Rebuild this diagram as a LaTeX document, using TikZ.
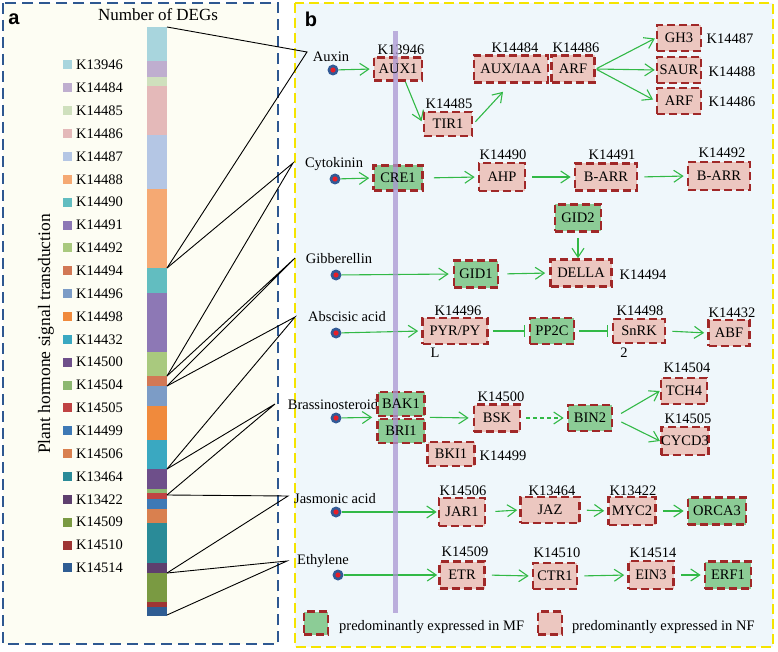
\documentclass[tikz,border=0pt]{standalone}
\usepackage{fontspec}
\setmainfont{Liberation Serif}
\newfontfamily\sansbold{Liberation Sans}
\usetikzlibrary{arrows.meta,calc}
\definecolor{pinkfill}{RGB}{236,199,192}
\definecolor{greenfill}{RGB}{140,204,150}
\definecolor{dred}{RGB}{160,40,40}
\definecolor{agreen}{RGB}{50,185,70}
\definecolor{pblue}{RGB}{46,88,145}
\definecolor{pyellow}{RGB}{245,228,0}
\definecolor{creambg}{RGB}{253,253,243}
\definecolor{bluebg}{RGB}{239,247,251}
\definecolor{barpurple}{RGB}{170,150,210}
\definecolor{dotblue}{RGB}{50,90,150}
\definecolor{dotred}{RGB}{230,30,40}
\definecolor{cA}{RGB}{168,213,221}
\definecolor{cB}{RGB}{191,174,207}
\definecolor{cC}{RGB}{207,224,189}
\definecolor{cD}{RGB}{228,185,185}
\definecolor{cE}{RGB}{180,198,228}
\definecolor{cF}{RGB}{245,169,115}
\definecolor{cG}{RGB}{98,189,192}
\definecolor{cH}{RGB}{141,120,181}
\definecolor{cI}{RGB}{169,201,126}
\definecolor{cJ}{RGB}{210,120,85}
\definecolor{cK}{RGB}{124,156,198}
\definecolor{cL}{RGB}{240,138,60}
\definecolor{cM}{RGB}{58,168,193}
\definecolor{cN}{RGB}{110,79,138}
\definecolor{cO}{RGB}{141,184,113}
\definecolor{cP}{RGB}{192,67,67}
\definecolor{cQ}{RGB}{62,121,181}
\definecolor{cR}{RGB}{217,128,79}
\definecolor{cS}{RGB}{42,139,152}
\definecolor{cT}{RGB}{94,63,110}
\definecolor{cU}{RGB}{122,154,66}
\definecolor{cV}{RGB}{158,53,52}
\definecolor{cW}{RGB}{47,93,147}
\newcommand\fsz{\fontsize{14.5pt}{17pt}\selectfont}
\begin{document}
\begin{tikzpicture}[x=1pt,y=-1pt,
  every node/.style={font=\fsz, inner sep=0pt},
  genebox/.style={draw=dred, line width=2.6pt, dash pattern=on 8pt off 4pt, inner sep=0pt},
  pk/.style={genebox, fill=pinkfill},
  gr/.style={genebox, fill=greenfill},
  garrow/.style={draw=agreen, line width=1.1pt, -{Straight Barb[length=9pt,width=12pt,line width=1.1pt]}, shorten <=6pt, shorten >=3pt},
  ginhib/.style={draw=agreen, line width=1.1pt, -{Bar[width=12pt,line width=1.1pt]}, shorten <=4pt, shorten >=4pt},
  hdot/.style={circle, fill=dotblue, minimum size=11pt, inner sep=0pt,
     path picture={\fill[dotred] (path picture bounding box.center) circle (2.6pt);}},
  bline/.style={draw=black, line width=0.9pt},
  klab/.style={}
]
\useasboundingbox (0,0) rectangle (778,652);
% panel backgrounds
\fill[creambg] (3,3) rectangle (278,644);
\fill[bluebg] (295,3) rectangle (773,647);
\draw[pblue, line width=2.3pt, dash pattern=on 11pt off 6pt] (3,3) rectangle (278,644);
\draw[pyellow, line width=2pt, dash pattern=on 10pt off 5pt] (295,3) rectangle (773,647);

% panel a
\node[font=\sansbold\bfseries\fontsize{20pt}{22pt}\selectfont] (la) at (14,19) {a};
\node[font=\fontsize{17pt}{19pt}\selectfont] (ttl) at (158,15) {Number of DEGs};
\node[rotate=90, font=\fontsize{17.5pt}{20pt}\selectfont] (ylab) at (46,334) {Plant hormone signal transduction};
\foreach \t/\b/\c/\k [count=\i] in {
 27/61/cA/K13946, 61/77/cB/K14484, 77/86/cC/K14485, 86/135/cD/K14486,
 135/189/cE/K14487, 189/268/cF/K14488, 268/293/cG/K14490, 293/352/cH/K14491,
 352/376/cI/K14492, 376/386/cJ/K14494, 386/406/cK/K14496, 406/440/cL/K14498,
 440/469/cM/K14432, 469/489/cN/K14500, 489/493/cO/K14504, 493/499/cP/K14505,
 499/509/cQ/K14499, 509/523/cR/K14506, 523/563/cS/K13464, 563/573/cT/K13422,
 573/602/cU/K14509, 602/607/cV/K14510, 607/616/cW/K14514}{
  \fill[\c] (147,\t) rectangle (167,\b);
  \fill[\c] (63,{65+22.86*(\i-1)-4.5}) rectangle (72,{65+22.86*(\i-1)+4.5});
  \node[anchor=west] (lg\i) at (76,{65+22.86*(\i-1)}) {\k};
}
% bracket coordinates
\coordinate (apAux) at (307,52);
\coordinate (apCyt) at (293,163);
\coordinate (apGib) at (295,258);
\coordinate (apAba) at (295,317);
\coordinate (apBra) at (275,404);
\coordinate (apJas) at (288,496);
\coordinate (apEth) at (287,561);
\coordinate (p27) at (167,27);
\coordinate (p268) at (167,268);
\coordinate (p376) at (167,376);
\coordinate (p386) at (167,386);
\coordinate (p469) at (167,469);
\coordinate (p495) at (167,495);
\coordinate (p573) at (167,573);
\coordinate (p615) at (167,615);
\draw[bline] (p27) -- (apAux) -- (p268);
\draw[bline] (p268) -- (apCyt) -- (p376);
\draw[bline] (p376) -- (apGib) -- (p386);
\draw[bline] (p386) -- (apAba) -- (p469);
\draw[bline] (p469) -- (apBra) -- (p495);
\draw[bline] (p495) -- (apJas) -- (p573);
\draw[bline] (p573) -- (apEth) -- (p615);

% panel b
\node[font=\sansbold\bfseries\fontsize{20pt}{22pt}\selectfont] (lb) at (311,19) {b};
% hormone labels
\node (hAux) at (331,57) {Auxin};
\node (hCyt) at (334,164) {Cytokinin};
\node (hGib) at (339,259) {Gibberellin};
\node (hAba) at (347,317) {Abscisic acid};
\node (hBra) at (333,405) {Brassinosteroid};
\node (hJas) at (335,499) {Jasmonic acid};
\node (hEth) at (323,561) {Ethylene};
% dots
\node[hdot] (dAux) at (333,70) {};
\node[hdot] (dCyt) at (335,179) {};
\node[hdot] (dGib) at (336,275) {};
\node[hdot] (dAba) at (336,333) {};
\node[hdot] (dBra) at (336,418) {};
\node[hdot] (dJas) at (336,512) {};
\node[hdot] (dEth) at (338,575) {};
% gene boxes (the four crossed by the membrane get their text after the bar)
\node[pk, minimum width=48pt, minimum height=23pt] (AUX1) at (398,69) {};
\node[gr, minimum width=49pt, minimum height=25pt] (CRE1) at (398,178) {};
\node[gr, minimum width=47pt, minimum height=24pt] (BAK1) at (401,404) {};
\node[gr, minimum width=47pt, minimum height=24pt] (BRI1) at (401,431) {};
\node[pk, minimum width=48pt, minimum height=24pt] (TIR1) at (448,124) {TIR1};
\node[pk, minimum width=74pt, minimum height=27pt] (AUXIAA) at (511,69) {AUX/IAA};
\node[pk, minimum width=43pt, minimum height=27pt] (ARF) at (573,69) {ARF};
\node[pk, minimum width=44pt, minimum height=26pt] (GH3) at (679,38) {GH3};
\node[pk, minimum width=44pt, minimum height=26pt] (SAUR) at (679,70) {SAUR};
\node[pk, minimum width=44pt, minimum height=26pt] (ARFb) at (679,101) {ARF};
\node[pk, minimum width=46pt, minimum height=28pt] (AHP) at (502,177) {AHP};
\node[pk, minimum width=62pt, minimum height=27pt] (BARR) at (606,177) {B-ARR};
\node[pk, minimum width=62pt, minimum height=28pt] (BARRb) at (719,176) {B-ARR};
\node[gr, minimum width=46pt, minimum height=27pt] (GID2) at (578,218) {GID2};
\node[gr, minimum width=44pt, minimum height=27pt] (GID1) at (476,274) {GID1};
\node[pk, minimum width=61pt, minimum height=27pt] (DELLA) at (581,273) {DELLA};
\node[pk, minimum width=65pt, minimum height=26pt] (PYR) at (455,331) {PYR/PY};
\node[gr, minimum width=44pt, minimum height=26pt] (PP2C) at (552,331) {PP2C};
\node[pk, minimum width=52pt, minimum height=24pt] (SnRK) at (639,331) {SnRK};
\node[pk, minimum width=41pt, minimum height=26pt] (ABF) at (729,333) {ABF};
\node[pk, minimum width=46pt, minimum height=27pt] (BSK) at (497,418) {BSK};
\node[gr, minimum width=44pt, minimum height=26pt] (BIN2) at (590,418) {BIN2};
\node[pk, minimum width=46pt, minimum height=26pt] (TCH4) at (684,391) {TCH4};
\node[pk, minimum width=46pt, minimum height=28pt] (CYCD3) at (685,441) {CYCD3};
\node[pk, minimum width=47pt, minimum height=24pt] (BKI1) at (451,454) {BKI1};
\node[pk, minimum width=46pt, minimum height=28pt] (JAR1) at (462,512) {JAR1};
\node[pk, minimum width=59pt, minimum height=26pt] (JAZ) at (550,510) {JAZ};
\node[pk, minimum width=47pt, minimum height=28pt] (MYC2) at (632,511) {MYC2};
\node[gr, minimum width=58pt, minimum height=27pt] (ORCA3) at (717,511) {ORCA3};
\node[pk, minimum width=45pt, minimum height=27pt] (ETR) at (462,575) {ETR};
\node[pk, minimum width=44pt, minimum height=26pt] (CTR1) at (555,576) {CTR1};
\node[pk, minimum width=45pt, minimum height=28pt] (EIN3) at (651,575) {EIN3};
\node[gr, minimum width=46pt, minimum height=27pt] (ERF1) at (728,575) {ERF1};
% K labels
\node[klab] (kAUX1) at (401,50) {K13946};
\node[klab] (kTIR1) at (449,104) {K14485};
\node[klab] (kAUXIAA) at (515,48) {K14484};
\node[klab] (kARF) at (576,48) {K14486};
\node[klab] (kGH3) at (730,39) {K14487};
\node[klab] (kSAUR) at (732,72) {K14488};
\node[klab] (kARFb) at (732,102) {K14486};
\node[klab] (kAHP) at (503,155) {K14490};
\node[klab] (kBARR) at (612,155) {K14491};
\node[klab] (kBARRb) at (722,153) {K14492};
\node[klab] (kDELLA) at (643,275) {K14494};
\node[klab] (kPYR) at (458,311) {K14496};
\node[klab] (kSnRK) at (640,311) {K14498};
\node[klab] (kABF) at (732,313) {K14432};
\node[klab] (kBSK) at (501,397) {K14500};
\node[klab] (kTCH4) at (687,368) {K14504};
\node[klab] (kCYCD3) at (688,419) {K14505};
\node[klab] (kBKI1) at (503,456) {K14499};
\node[klab] (kJAR1) at (463,491) {K14506};
\node[klab] (kJAZ) at (552,491) {K13464};
\node[klab] (kMYC2) at (633,491) {K13422};
\node[klab] (kETR) at (465,552) {K14509};
\node[klab] (kCTR1) at (557,553) {K14510};
\node[klab] (kEIN3) at (653,553) {K14514};
\node (tL) at (435,353) {L};
\node (t2) at (624,353) {2};
% arrows
\draw[garrow, shorten <=0pt] (dAux) -- (AUX1.west);
\draw[garrow, shorten <=0pt] (AUX1.300) -- (TIR1.west);
\draw[garrow, shorten <=3pt, shorten >=0pt] (TIR1.east) -- ($(AUXIAA.south)+(-8,8)$);
\draw[garrow, shorten <=1pt, shorten >=1pt] (ARF.east) -- (GH3.west);
\draw[garrow, shorten <=1pt, shorten >=1pt] (ARF.east) -- (SAUR.west);
\draw[garrow, shorten <=1pt, shorten >=3pt] (ARF.east) -- (ARFb.west);
\draw[garrow, shorten <=0pt] (dCyt) -- (CRE1.west);
\draw[garrow, shorten <=10pt] (CRE1.east) -- (AHP.west);
\draw[garrow] (AHP.east) -- (BARR.west);
\draw[garrow] (BARR.east) -- (BARRb.west);
\draw[garrow, shorten <=5pt, shorten >=0pt] (GID2.south) -- (GID2.south |- DELLA.north);
\draw[garrow, shorten <=0pt, shorten >=4pt] (dGib) -- (GID1.west);
\draw[garrow, shorten <=8pt, shorten >=4pt] (GID1.east) -- (DELLA.west);
\draw[garrow, shorten <=0pt] (dAba) -- (PYR.west);
\draw[ginhib] (PYR.east) -- (PP2C.west);
\draw[ginhib] (PP2C.east) -- (SnRK.west);
\draw[garrow] (SnRK.east) -- (ABF.west);
\draw[garrow, shorten <=0pt, shorten >=4pt] (dBra) -- (BAK1.south west);
\draw[garrow, shorten <=4pt, shorten >=4pt] (BAK1.south east) -- (BSK.west);
\draw[garrow, dash pattern=on 4pt off 3pt, shorten <=5pt] (BSK.east) -- (BIN2.west);
\draw[garrow, shorten <=9pt, shorten >=0pt] (BIN2.east) -- (TCH4.west);
\draw[garrow, shorten <=9pt, shorten >=0pt] (BIN2.east) -- (CYCD3.west);
\draw[garrow, shorten <=0pt, shorten >=1pt] (dJas) -- (JAR1.west);
\draw[garrow, shorten <=9pt, shorten >=2pt] (JAR1.east) -- (JAZ.west);
\draw[garrow] (JAZ.east) -- (MYC2.west);
\draw[garrow] (MYC2.east) -- (ORCA3.west);
\draw[garrow, shorten <=0pt, shorten >=1pt] (dEth) -- (ETR.west);
\draw[garrow] (ETR.east) -- (CTR1.west);
\draw[garrow] (CTR1.east) -- (EIN3.west);
\draw[garrow] (EIN3.east) -- (ERF1.west);
% membrane bar
\fill[barpurple, opacity=0.75] (392.5,31) rectangle (397.5,613);
\node (AUX1txt) at (AUX1) {AUX1};
\node (CRE1txt) at (CRE1) {CRE1};
\node (BAK1txt) at (BAK1) {BAK1};
\node (BRI1txt) at (BRI1) {BRI1};
% legend
\node[gr, minimum width=24pt, minimum height=23pt] (legG) at (316,623) {};
\node[anchor=west] (legGt) at (339,627) {predominantly expressed in MF};
\node[pk, minimum width=24pt, minimum height=23pt] (legP) at (550,623) {};
\node[anchor=west] (legPt) at (572,627) {predominantly expressed in NF};
\end{tikzpicture}
\end{document}
